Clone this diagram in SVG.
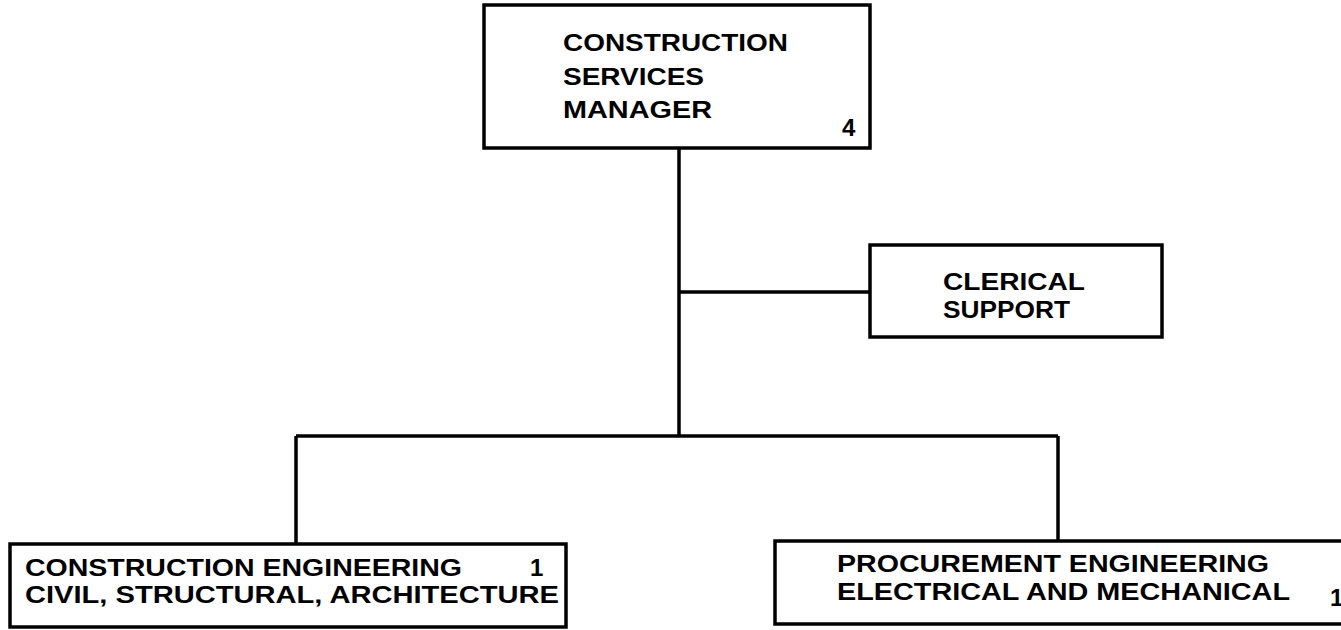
<svg xmlns="http://www.w3.org/2000/svg" width="1341" height="630" viewBox="0 0 1341 630">
<style>
.box{fill:#fff;stroke:#000;stroke-width:3.5}
.ln{fill:none;stroke:#000;stroke-width:3.5}
text{font-family:"Liberation Sans",Arial,sans-serif;font-weight:bold;font-size:24px;fill:#000}
</style>
<rect width="1341" height="630" fill="#fff"/>
<g id="connectors">
<line class="ln" x1="679" y1="148" x2="679" y2="436"/>
<line class="ln" x1="679" y1="292" x2="870" y2="292"/>
<line class="ln" x1="296" y1="436" x2="1058" y2="436"/>
<line class="ln" x1="296" y1="436" x2="296" y2="544"/>
<line class="ln" x1="1058" y1="436" x2="1058" y2="541"/>
</g>
<g id="manager">
<rect class="box" x="484" y="5" width="386" height="143"/>
<text x="563" y="51" textLength="225" lengthAdjust="spacingAndGlyphs">CONSTRUCTION</text>
<text x="563" y="85" textLength="141" lengthAdjust="spacingAndGlyphs">SERVICES</text>
<text x="563" y="118" textLength="149" lengthAdjust="spacingAndGlyphs">MANAGER</text>
<text x="842" y="136">4</text>
</g>
<g id="clerical">
<rect class="box" x="870" y="245" width="292" height="92"/>
<text x="943" y="290" textLength="142" lengthAdjust="spacingAndGlyphs">CLERICAL</text>
<text x="943" y="318" textLength="127" lengthAdjust="spacingAndGlyphs">SUPPORT</text>
</g>
<g id="construction-eng">
<rect class="box" x="10" y="544" width="556" height="83"/>
<text x="25" y="576" textLength="437" lengthAdjust="spacingAndGlyphs">CONSTRUCTION ENGINEERING</text>
<text x="530" y="576">1</text>
<text x="25" y="603" textLength="534" lengthAdjust="spacingAndGlyphs">CIVIL, STRUCTURAL, ARCHITECTURE</text>
</g>
<g id="procurement-eng">
<rect class="box" x="775" y="541" width="580" height="83"/>
<text x="837" y="572" textLength="432" lengthAdjust="spacingAndGlyphs">PROCUREMENT ENGINEERING</text>
<text x="837" y="600" textLength="453" lengthAdjust="spacingAndGlyphs">ELECTRICAL AND MECHANICAL</text>
<text x="1330" y="606">1</text>
</g>
</svg>
